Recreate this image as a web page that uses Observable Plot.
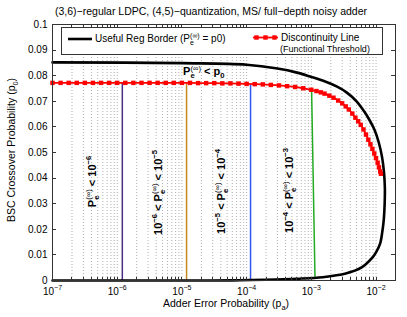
<!DOCTYPE html>
<html><head><meta charset="utf-8">
<script src="https://cdn.jsdelivr.net/npm/d3@7"></script>
<script src="https://cdn.jsdelivr.net/npm/@observablehq/plot@0.6"></script>
<style>
body{margin:0;background:#fff;}
#chart{width:407px;height:317px;}
svg text{font-family:"Liberation Sans",Arial,Helvetica,sans-serif;}
</style></head><body><div id="chart"></div>
<script>
// ---------- data ----------
const titleText = "(3,6)−regular LDPC, (4,5)−quantization, MS/ full−depth noisy adder";
const xLabelText = "Adder Error Probability (p_{a})";
const yLabelText = "BSC Crossover Probability (p_{0})";
const xTicks = [1e-7, 1e-6, 1e-5, 1e-4, 1e-3, 1e-2];
const xTickLabels = ["10^{−7}", "10^{−6}", "10^{−5}", "10^{−4}", "10^{−3}", "10^{−2}"];
const yTicks = [0, 0.01, 0.02, 0.03, 0.04, 0.05, 0.06, 0.07, 0.08, 0.09, 0.1];
const yTickLabels = ["0", "0.01", "0.02", "0.03", "0.04", "0.05", "0.06", "0.07", "0.08", "0.09", "0.1"];

// Useful Reg Border (black)
const borderPa = [1e-7, 1e-5, 1e-4, 3e-4, 6e-4, 1e-3, 1.6e-3, 2.5e-3, 3.5e-3, 5e-3, 6.5e-3, 8e-3, 9.5e-3, 1.1e-2, 1.24e-2, 1.33e-2, 1.37e-2, 1.36e-2, 1.32e-2, 1.25e-2, 1.16e-2, 1.0e-2, 8.5e-3, 6.0e-3, 3.4e-3, 1.5e-3, 6e-4, 2e-4, 8e-5, 3e-5, 1e-7];
const borderP0 = [0.0852, 0.0849, 0.0843, 0.0828, 0.0812, 0.0795, 0.0778, 0.0757, 0.0735, 0.0700, 0.0662, 0.0625, 0.0588, 0.0540, 0.0482, 0.0420, 0.0360, 0.0300, 0.0240, 0.0190, 0.0145, 0.0110, 0.0085, 0.0051, 0.0027, 0.0013, 0.0007, 0.0003, 0.0001, 0, 0];

// Discontinuity Line (red)
const redPa = [
  1e-7, 1.334e-7, 1.778e-7, 2.371e-7, 3.162e-7, 4.217e-7, 5.623e-7, 7.499e-7,
  1e-6, 1.334e-6, 1.778e-6, 2.371e-6, 3.162e-6, 4.217e-6, 5.623e-6, 7.499e-6,
  1e-5, 1.334e-5, 1.778e-5, 2.371e-5, 3.162e-5, 4.217e-5, 5.623e-5, 7.499e-5,
  1e-4, 1.334e-4, 1.778e-4, 2.371e-4, 3.162e-4, 4.217e-4, 5.623e-4, 7.499e-4,
  1.0e-3, 1.2e-3, 1.4e-3, 1.6e-3, 1.9e-3, 2.2e-3, 2.6e-3, 3.0e-3, 3.4e-3, 3.8e-3,
  4.3e-3, 4.8e-3, 5.3e-3, 5.8e-3, 6.4e-3, 7.0e-3, 7.6e-3, 8.2e-3, 8.8e-3, 9.4e-3,
  1.0e-2, 1.06e-2, 1.11e-2, 1.16e-2, 1.19e-2];
const redP0 = [
  0.0772, 0.0772, 0.0772, 0.0772, 0.0772, 0.0772, 0.0772, 0.0772,
  0.0772, 0.0772, 0.0772, 0.0772, 0.0772, 0.0772, 0.0772, 0.0772,
  0.0772, 0.0772, 0.0771, 0.0771, 0.0771, 0.0770, 0.0770, 0.0769,
  0.0768, 0.0767, 0.0766, 0.0764, 0.0762, 0.0759, 0.0756, 0.0751,
  0.0745, 0.0740, 0.0735, 0.0730, 0.0722, 0.0714, 0.0703, 0.0692, 0.0680, 0.0668,
  0.0652, 0.0636, 0.0622, 0.0608, 0.0590, 0.0570, 0.0550, 0.0532, 0.0514, 0.0496,
  0.0478, 0.0460, 0.0442, 0.0426, 0.0417];

// region boundary lines
const regionColors = ["#4b2d86", "#c8881e", "#3355ee", "#22aa22"];
const regionPaTop = [1.2e-6, 1.18e-5, 1.15e-4, 1.01e-3];
const regionP0Top = [0.0772, 0.0771, 0.0767, 0.0743];
const regionPaBottom = [1.2e-6, 1.18e-5, 1.15e-4, 1.14e-3];
const regionP0Bottom = [0, 0, 0, 0.0011];

// region annotations
const regionLabelText = ["P_{e}^{(∞)} < 10^{−6}", "10^{−6} < P_{e}^{(∞)} < 10^{−5}", "10^{−5} < P_{e}^{(∞)} < 10^{−4}", "10^{−4} < P_{e}^{(∞)} < 10^{−3}"];
const regionLabelPa = [4.1e-7, 4.3e-6, 4.1e-5, 4.6e-4];
const regionLabelP0 = [0.0387, 0.0344, 0.0348, 0.0352];
const topLabelText = ["P_{e}^{(∞)} < p_{0}"];
const topLabelPa = [2.18e-5];
const topLabelP0 = [0.0816];

const legendLabels = ["Useful Reg Border (P_{e}^{(∞)} = p0)", "Discontinuity Line", "(Functional Threshold)"];

// ---------- tables ----------
const border = borderPa.map((pa, i) => ({pa, p0: borderP0[i]}));
const red = redPa.map((pa, i) => ({pa, p0: redP0[i]}));
const regions = regionColors.map((c, i) => ({color: c, pa1: regionPaTop[i], p01: regionP0Top[i], pa2: regionPaBottom[i], p02: regionP0Bottom[i]}));
const regionLabels = regionLabelText.map((t, i) => ({t, pa: regionLabelPa[i], p0: regionLabelP0[i]}));
const topLabel = topLabelText.map((t, i) => ({t, pa: topLabelPa[i], p0: topLabelP0[i]}));
const gridX = [];
for (let e = -7; e <= -2; e++) for (let k = 1; k <= 9; k++) { const v = k * Math.pow(10, e); if (v <= 2e-2 * 1.0001) gridX.push(+v.toPrecision(3)); }

const fig = Plot.plot({
  width: 407, height: 317,
  marginLeft: 52, marginRight: 12, marginTop: 24, marginBottom: 37,
  style: {fontFamily: '"Liberation Sans", Arial, sans-serif', fontSize: "10px", background: "white", color: "#000", overflow: "visible"},
  x: {type: "log", domain: [1e-7, 2e-2]},
  y: {domain: [0, 0.1]},
  marks: [
    Plot.ruleX(gridX, {stroke: "#b0b0b0", strokeDasharray: "1,2", strokeWidth: 1}),
    Plot.link(regions, {x1: "pa1", y1: "p01", x2: "pa2", y2: "p02", stroke: d => d.color, strokeWidth: 1.5}),
    Plot.line(border, {x: "pa", y: "p0", stroke: "black", strokeWidth: 2.6, curve: "catmull-rom"}),
    Plot.line(red, {x: "pa", y: "p0", stroke: "#ff0000", strokeWidth: 1.8}),
    Plot.dot(red, {x: "pa", y: "p0", symbol: "square", r: 2.5, fill: "#ff0000", stroke: "none"}),
    Plot.frame({stroke: "#333"}),
    Plot.text(regionLabels, {x: "pa", y: "p0", text: "t", rotate: -90, fontWeight: "bold", fontSize: 11, fill: "black"}),
    Plot.text(topLabel, {x: "pa", y: "p0", text: "t", fontWeight: "bold", fontSize: 11, fill: "black"}),
    Plot.axisX(xTicks, {tickSize: 0, tickPadding: 7, tickFormat: d => xTickLabels[xTicks.indexOf(d)], label: null}),
    Plot.axisY(yTicks, {tickSize: 0, tickPadding: 5, tickFormat: d => yTickLabels[yTicks.indexOf(d)], label: null})
  ]
});
document.getElementById("chart").appendChild(fig);

// rich text: _{..} subscript, ^{..} superscript (stacked if following a subscript)
function parseRich(s) {
  const out = []; let i = 0, buf = "";
  while (i < s.length) {
    if ((s[i] === "_" || s[i] === "^") && s[i + 1] === "{") {
      if (buf) { out.push({type: "n", text: buf}); buf = ""; }
      const j = s.indexOf("}", i);
      out.push({type: s[i] === "_" ? "sub" : "sup", text: s.slice(i + 2, j)});
      i = j + 1;
    } else { buf += s[i]; i++; }
  }
  if (buf) out.push({type: "n", text: buf});
  return out;
}
function rich(textEl, str, size) {
  const sel = d3.select(textEl);
  sel.text(null);
  let off = 0, prev = null, lastW = 0;
  parseRich(str).forEach(p => {
    const t = sel.append("tspan").text(p.text);
    const target = p.type === "sup" ? -0.42 * size : p.type === "sub" ? 0.3 * size : 0;
    if (target - off !== 0) t.attr("dy", target - off);
    off = target;
    if (p.type !== "n") t.attr("font-size", size * 0.7);
    if (p.type === "sup" && p.text.indexOf("∞") >= 0) t.attr("font-weight", "normal");
    if (p.type === "sup" && prev === "sub") t.attr("dx", -lastW);
    if (p.type === "sub") lastW = t.node().getComputedTextLength();
    prev = p.type;
  });
}

const svg = d3.select(fig);
svg.selectAll("text").each(function() {
  const s = this.textContent;
  if (s.indexOf("_{") >= 0 || s.indexOf("^{") >= 0) {
    const fs = parseFloat(getComputedStyle(this).fontSize) || 10;
    rich(this, s, fs);
  }
});

const sx = fig.scale("x"), sy = fig.scale("y");
const X0 = sx.apply(1e-7), X1 = sx.apply(2e-2), Y0 = sy.apply(0), Y1 = sy.apply(0.1);
const tg = svg.append("g").attr("stroke", "#333").attr("stroke-width", 1);
gridX.forEach(v => {
  const x = Math.round(sx.apply(v)) + 0.5;
  tg.append("line").attr("x1", x).attr("x2", x).attr("y1", Y1).attr("y2", Y1 + 3);
  tg.append("line").attr("x1", x).attr("x2", x).attr("y1", Y0).attr("y2", Y0 - 3);
});
yTicks.forEach(v => {
  const y = Math.round(sy.apply(v)) + 0.5;
  tg.append("line").attr("x1", X0).attr("x2", X0 + 4).attr("y1", y).attr("y2", y);
  tg.append("line").attr("x1", X1).attr("x2", X1 - 4).attr("y1", y).attr("y2", y);
});

// title and axis labels
svg.append("text").attr("x", 211).attr("y", 15).attr("text-anchor", "middle").attr("font-size", 10.5).attr("fill", "#000").text(titleText);
const xl = svg.append("text").attr("x", 226).attr("y", 307).attr("text-anchor", "middle").attr("font-size", 10.5).attr("fill", "#000").node();
rich(xl, xLabelText, 10.5);
const yl = svg.append("text").attr("transform", "translate(15,150) rotate(-90)").attr("text-anchor", "middle").attr("font-size", 10.5).attr("fill", "#000").node();
rich(yl, yLabelText, 10.5);

// legend
const lg = svg.append("g").attr("text-anchor", "start");
lg.append("rect").attr("x", 61.5).attr("y", 27.5).attr("width", 321).attr("height", 27).attr("fill", "white").attr("stroke", "#333");
lg.append("line").attr("x1", 68).attr("x2", 92).attr("y1", 39).attr("y2", 39).attr("stroke", "black").attr("stroke-width", 2.6);
const l1 = lg.append("text").attr("x", 95).attr("y", 42).attr("font-size", 10).attr("fill", "#000").node();
rich(l1, legendLabels[0], 10);
lg.append("line").attr("x1", 253).attr("x2", 278).attr("y1", 37.5).attr("y2", 37.5).attr("stroke", "#ff0000").attr("stroke-width", 1.8);
[256.5, 265.5, 274.5].forEach(x => lg.append("rect").attr("x", x - 2.2).attr("y", 35.3).attr("width", 4.4).attr("height", 4.4).attr("fill", "#ff0000"));
lg.append("text").attr("x", 281).attr("y", 41).attr("font-size", 10).attr("fill", "#000").text(legendLabels[1]);
lg.append("text").attr("x", 280).attr("y", 52).attr("font-size", 9).attr("fill", "#000").text(legendLabels[2]);
</script></body></html>
